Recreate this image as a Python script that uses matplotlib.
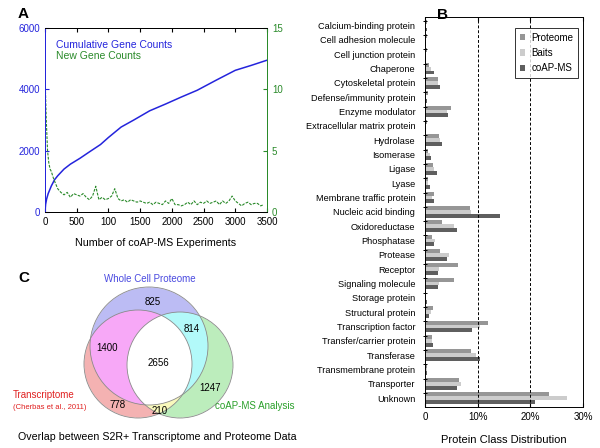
import numpy as np
import matplotlib
matplotlib.use("Agg")
import matplotlib.pyplot as plt
from matplotlib.patches import Circle

plt.rcParams['font.family'] = ['Liberation Sans', 'DejaVu Sans']

# ---- panel A data ----
cum_x = [0, 10, 25, 50, 100, 150, 200, 300, 400, 550, 700, 875, 1000, 1200, 1400,
         1650, 1900, 2150, 2400, 2700, 3000, 3250, 3500]
cum_y = [0, 250, 420, 600, 850, 1050, 1180, 1400, 1560, 1750, 1960, 2200, 2430, 2770,
         3000, 3300, 3520, 3750, 3970, 4300, 4620, 4780, 4950]

new_x = [0, 20, 40, 60, 80, 100, 130, 160, 200, 250, 300, 350, 400, 450, 500, 550, 600,
         650, 700, 750, 800, 850, 900, 950, 1000, 1050, 1100, 1150, 1200, 1250, 1300,
         1350, 1400, 1450, 1500, 1550, 1600, 1650, 1700, 1750, 1800, 1850, 1900, 1950,
         2000, 2050, 2100, 2150, 2200, 2250, 2300, 2350, 2400, 2450, 2500, 2550, 2600,
         2650, 2700, 2750, 2800, 2850, 2900, 2950, 3000, 3050, 3100, 3150, 3200, 3250,
         3300, 3350, 3400, 3450]
new_y = [11.2, 7.5, 5.0, 4.0, 3.5, 3.3, 2.8, 2.4, 1.9, 1.6, 1.4, 1.6, 1.2, 1.5, 1.4, 1.3,
         1.5, 1.2, 1.0, 1.3, 2.1, 1.0, 1.2, 1.0, 1.1, 1.3, 1.9, 1.1, 0.9, 1.0, 0.8, 1.0,
         0.9, 0.8, 0.9, 0.8, 0.7, 0.8, 0.6, 0.8, 0.7, 0.6, 0.9, 0.7, 1.1, 0.6, 0.6, 0.5,
         0.6, 0.8, 0.6, 0.9, 0.6, 0.8, 0.7, 0.9, 0.7, 0.8, 0.9, 0.6, 0.9, 0.7, 0.9, 1.3,
         0.9, 0.7, 0.5, 0.7, 0.8, 0.6, 0.7, 0.7, 0.5, 0.6]
a_xticks = [0, 500, 1000, 1500, 2000, 2500, 3000, 3500]
a_xticklabels = ['0', '500', '100', '1500', '2000', '2500', '3000', '3500']

# ---- panel B data ----
classes = ['Calcium-binding protein', 'Cell adhesion molecule', 'Cell junction protein',
           'Chaperone', 'Cytoskeletal protein', 'Defense/immunity protein',
           'Enzyme modulator', 'Extracellular matrix protein', 'Hydrolase', 'Isomerase',
           'Ligase', 'Lyase', 'Membrane traffic protein', 'Nucleic acid binding',
           'Oxidoreductase', 'Phosphatase', 'Protease', 'Receptor', 'Signaling molecule',
           'Storage protein', 'Structural protein', 'Transcription factor',
           'Transfer/carrier protein', 'Transferase', 'Transmembrane protein',
           'Transporter', 'Unknown']
proteome = [0.3, 0.4, 0.3, 0.8, 2.5, 0.5, 5.0, 0.3, 2.6, 0.6, 1.5, 0.6, 1.8, 8.6, 3.2,
            1.3, 2.8, 6.3, 5.6, 0.2, 1.6, 12.0, 1.4, 8.8, 0.4, 6.4, 23.5]
baits = [0.2, 0.1, 0.1, 1.1, 2.4, 0.2, 4.2, 0.1, 2.9, 0.9, 1.7, 0.5, 1.3, 8.7, 5.5,
         1.9, 4.6, 2.6, 2.6, 0.1, 1.1, 10.5, 1.4, 9.6, 0.3, 6.8, 27.0]
coapms = [0.4, 0.1, 0.1, 1.7, 2.8, 0.3, 4.3, 0.2, 3.3, 1.2, 2.3, 0.9, 1.8, 14.3, 6.1,
          1.7, 4.2, 2.4, 2.5, 0.4, 0.8, 9.0, 1.6, 10.5, 0.4, 6.1, 20.8]

# ---- panel C data ----
venn_counts = {'P': 825, 'PC': 814, 'TP': 1400, 'TPC': 2656, 'C': 1247, 'T': 778, 'TC': 210}

fig = plt.figure(figsize=(6, 4.48), dpi=100)
blue = '#2424dc'
green = '#2a8a2a'

# ================= Panel A =================
axA = fig.add_axes([45/600, 1-212/448, 222/600, 184/448])
axA.plot(cum_x, cum_y, color=blue, lw=1.1)
axA.set_xlim(0, 3500)
axA.set_ylim(0, 6000)
axA.set_yticks([0, 2000, 4000, 6000])
axA.set_xticks(a_xticks)
axA.set_xticklabels(a_xticklabels)
axA.tick_params(axis='y', colors=blue, labelsize=7, direction='in', length=3)
axA.tick_params(axis='x', labelsize=7, direction='in', length=3, top=True)
axA.spines['left'].set_color(blue)
axA.spines['right'].set_color(green)
for s in axA.spines.values():
    s.set_linewidth(0.7)
axA.set_xlabel('Number of coAP-MS Experiments', fontsize=7.7, labelpad=8)

axA2 = axA.twinx()
axA2.plot(new_x, new_y, color=green, lw=0.8, ls='--', dashes=(2.5, 1.2))
axA2.set_ylim(0, 15)
axA2.set_yticks([0, 5, 10, 15])
axA2.tick_params(axis='y', colors=green, labelsize=7, direction='in', length=3)
axA2.spines['right'].set_color(green)
axA2.spines['left'].set_color(blue)
for s in axA2.spines.values():
    s.set_linewidth(0.7)

axA.text(0.05, 0.91, 'Cumulative Gene Counts', transform=axA.transAxes, color=blue,
         fontsize=7.5, va='center')
axA.text(0.05, 0.85, 'New Gene Counts', transform=axA.transAxes, color=green,
         fontsize=7.5, va='center')
fig.text(18/600, 1-14/448, 'A', fontsize=11, fontweight='bold', va='center')

# ================= Panel B =================
axB = fig.add_axes([425/600, 1-406.7/448, 158/600, 389.7/448])
y = np.arange(len(classes))
h = 0.27
axB.barh(y - h, proteome, height=h, color='#969696', label='Proteome')
axB.barh(y, baits, height=h, color='#cccccc', label='Baits')
axB.barh(y + h, coapms, height=h, color='#5f5f5f', label='coAP-MS')
axB.axvline(10, color='black', ls='--', lw=0.7, dashes=(3, 2))
axB.axvline(20, color='black', ls='--', lw=0.7, dashes=(3, 2))
axB.set_ylim(len(classes) - 0.4, -0.6)
axB.set_xlim(0, 30)
axB.set_yticks(y)
axB.set_yticklabels(classes, fontsize=6.6)
axB.set_yticks(y - 0.35, minor=True)
axB.tick_params(axis='y', which='major', length=0, pad=7)
axB.tick_params(axis='y', which='minor', length=2.5, direction='inout', width=0.7)
axB.set_xticks([0, 10, 20, 30])
axB.set_xticklabels(['0', '10%', '20%', '30%'], fontsize=7)
axB.tick_params(axis='x', direction='in', length=3, top=True)
for s in axB.spines.values():
    s.set_linewidth(0.7)
axB.set_xlabel('Protein Class Distribution', fontsize=8, labelpad=10)
leg = axB.legend(loc='upper right', fontsize=7, frameon=True, fancybox=False,
                 handlelength=0.6, handleheight=0.6, borderpad=0.5, labelspacing=0.55,
                 handletextpad=0.6, bbox_to_anchor=(1.0, 0.985))
leg.get_frame().set_edgecolor('black')
leg.get_frame().set_linewidth(0.7)
fig.text(437/600, 1-15/448, 'B', fontsize=11, fontweight='bold', va='center')

# ================= Panel C =================
axC = fig.add_axes([0, 0, 300/600, 183/448])
axC.set_xlim(0, 300)
axC.set_ylim(448, 265)
axC.axis('off')

circ_P = (149, 346, 59)
circ_T = (138, 364, 54)
circ_C = (180, 365, 53)
gx, gy = np.meshgrid(np.linspace(0, 300, 900), np.linspace(265, 448, 549))

def inside(c):
    return (gx - c[0])**2 + (gy - c[1])**2 <= c[2]**2

mP, mT, mC = inside(circ_P), inside(circ_T), inside(circ_C)
img = np.ones(gx.shape + (4,))
img[..., 3] = 0
region_colors = {
    (1, 0, 0): (0.74, 0.74, 0.96), (0, 1, 0): (0.96, 0.70, 0.70),
    (0, 0, 1): (0.74, 0.93, 0.74), (1, 1, 0): (0.97, 0.66, 0.97),
    (1, 0, 1): (0.70, 0.98, 0.98), (0, 1, 1): (0.98, 0.98, 0.74),
    (1, 1, 1): (1.0, 1.0, 1.0),
}
for key, col in region_colors.items():
    m = (mP == bool(key[0])) & (mT == bool(key[1])) & (mC == bool(key[2]))
    img[m] = col + (1.0,)
axC.imshow(img, extent=(0, 300, 448, 265), interpolation='bilinear', zorder=1)
for c in (circ_P, circ_T, circ_C):
    axC.add_patch(Circle((c[0], c[1]), c[2], fill=False, ec='#8a8a8a', lw=0.6, zorder=2))

for key, pos in [('P', (153, 302)), ('PC', (192, 329)), ('TP', (107, 348)),
                 ('TPC', (158, 363)), ('C', (210, 388)), ('T', (118, 405)),
                 ('TC', (160, 411))]:
    axC.text(pos[0], pos[1], str(venn_counts[key]), fontsize=7, ha='center', va='center',
             zorder=3)

axC.text(150, 279, 'Whole Cell Proteome', color='#4a4ae0', fontsize=7, ha='center',
         va='center')
axC.text(13, 395, 'Transcriptome', color='#e02020', fontsize=7, ha='left', va='center')
axC.text(13, 407, '(Cherbas et al., 2011)', color='#e02020', fontsize=5.5, ha='left',
         va='center')
axC.text(255, 406, 'coAP-MS Analysis', color='#2aa02a', fontsize=7, ha='center',
         va='center')
axC.text(157, 437, 'Overlap between S2R+ Transcriptome and Proteome Data', fontsize=7.7,
         ha='center', va='center')
axC.text(18, 278, 'C', fontsize=11, fontweight='bold', va='center')

fig.savefig('out.png', dpi=100)
